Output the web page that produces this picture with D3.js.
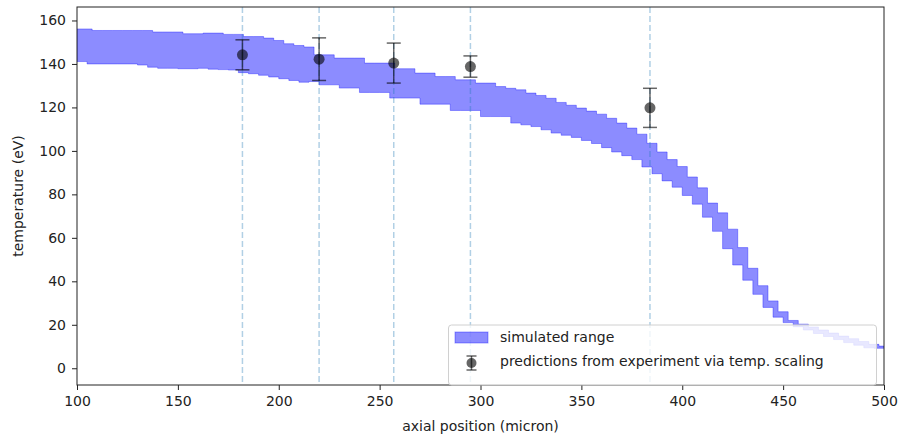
<!DOCTYPE html>
<html>
<head>
<meta charset="utf-8">
<script src="https://cdn.jsdelivr.net/npm/d3@7"></script>
<style>
  body { margin: 0; background: #fff; }
  svg { font-family: "DejaVu Sans", sans-serif; }
</style>
</head>
<body>
<div id="chart"></div>
<script>
'use strict';

// axial positions of the simulated band (micron)
const band_x = [100,105,110,115,120,125,130,135,140,145,150,155,160,165,170,175,180,185,190,195,
  200,205,210,215,220,225,230,235,240,245,250,255,260,265,270,275,280,285,290,295,
  300,305,310,315,320,325,330,335,340,345,350,355,360,365,370,375,380,385,390,395,
  400,405,410,415,420,425,430,435,440,445,450,455,460,465,470,475,480,485,490,495,500];

const band_hi = [156.1,156.1,155.4,155.4,155.4,155.4,155.4,155.4,154.7,154.7,154.7,153.9,153.9,154.2,154.2,153.6,153.6,152.6,152.6,151.9,
  150.8,149.3,148.5,147.8,144.2,144.2,142.7,142.7,142.7,140.4,140.4,140.4,137.8,137.8,135.8,135.8,134.2,134.2,132.7,132.7,
  131.2,131.2,129.6,128.8,128.1,126.6,125.5,124.2,122.3,121.0,119.7,118.3,116.9,115.0,112.8,110.5,107.7,103.5,99.5,96.0,
  92.8,88.0,83.0,76.0,71.5,64.0,55.5,46.0,38.0,31.0,26.0,22.0,20.3,19.0,17.6,16.2,14.8,13.6,12.3,11.0,10.2];

const band_lo = [141.1,141.1,140.0,140.0,140.0,140.0,140.0,139.5,138.5,138.0,138.0,137.8,137.8,138.0,137.6,137.4,137.2,136.0,135.5,134.8,
  134.0,133.2,132.4,131.6,131.9,130.4,130.4,128.9,128.9,126.9,126.9,126.9,124.3,124.3,124.3,121.5,121.5,121.5,118.6,118.6,
  118.6,115.8,115.8,115.8,112.8,112.0,111.2,109.7,108.2,107.2,106.2,104.8,103.4,101.5,99.5,97.8,96.0,92.6,89.5,86.2,
  83.3,79.5,75.5,69.5,63.0,55.0,47.5,40.5,34.0,28.0,23.5,21.0,19.1,17.6,16.0,14.6,13.2,11.8,10.6,9.4,9.2];

// predictions from experiment
const pred_x = [182, 220, 257, 295, 384];
const pred_y = [144.2, 142.2, 140.4, 138.8, 119.8];
const pred_err = [6.9, 9.8, 9.2, 4.9, 9.0];

const x_ticks = [100, 150, 200, 250, 300, 350, 400, 450, 500];
const y_ticks = [0, 20, 40, 60, 80, 100, 120, 140, 160];

const legend_labels = ["simulated range", "predictions from experiment via temp. scaling"];

const width = 903, height = 437;
const margin = {top: 7, right: 19, bottom: 52, left: 77};

const svg = d3.select("#chart").append("svg")
  .attr("width", width)
  .attr("height", height);

const x = d3.scaleLinear().domain([100, 500]).range([margin.left, width - margin.right]);
const y = d3.scaleLinear().domain([-7.7, 166.2]).range([height - margin.bottom, margin.top]);

svg.append("defs").append("clipPath").attr("id", "clip")
  .append("rect")
  .attr("x", margin.left).attr("y", margin.top)
  .attr("width", width - margin.left - margin.right)
  .attr("height", height - margin.top - margin.bottom);

const plot = svg.append("g").attr("clip-path", "url(#clip)");

// band: upper edge steps at midpoints, lower edge steps at samples,
// so the two staircases are offset by half a step
const n = band_x.length;
const top_pts = [], bot_pts = [];
band_x.forEach(function(d, i) {
  const a = i > 0 ? (band_x[i - 1] + d) / 2 : d;
  const b = i < n - 1 ? (band_x[i + 1] + d) / 2 : d;
  top_pts.push([x(a), y(band_hi[i])], [x(b), y(band_hi[i])]);
});
bot_pts.push([x(band_x[0]), y(band_lo[0])]);
for (let i = 0; i < n - 1; i++) {
  bot_pts.push([x(band_x[i]), y(band_lo[i + 1])], [x(band_x[i + 1]), y(band_lo[i + 1])]);
}
const poly = top_pts.concat(bot_pts.reverse());

plot.append("path")
  .datum(poly)
  .attr("fill", "blue")
  .attr("fill-opacity", 0.45)
  .attr("stroke", "blue")
  .attr("stroke-opacity", 0.35)
  .attr("stroke-width", 1)
  .attr("d", d3.line().curve(d3.curveLinearClosed));

// vertical dashed lines at prediction positions
plot.append("g")
  .selectAll("line")
  .data(pred_x)
  .enter().append("line")
  .attr("x1", function(d) { return x(d); })
  .attr("x2", function(d) { return x(d); })
  .attr("y1", margin.top)
  .attr("y2", height - margin.bottom)
  .attr("stroke", "#1f77b4")
  .attr("stroke-opacity", 0.35)
  .attr("stroke-width", 1.5)
  .attr("stroke-dasharray", "6,3");

// error bars
const preds = pred_x.map(function(d, i) { return {x: d, y: pred_y[i], e: pred_err[i]}; });
const pts = plot.append("g")
  .selectAll("g")
  .data(preds)
  .enter().append("g")
  .attr("stroke", "black")
  .attr("stroke-opacity", 0.6)
  .attr("stroke-width", 1.5);

pts.append("line")
  .attr("x1", function(d) { return x(d.x); })
  .attr("x2", function(d) { return x(d.x); })
  .attr("y1", function(d) { return y(d.y - d.e); })
  .attr("y2", function(d) { return y(d.y + d.e); });

[-1, 1].forEach(function(s) {
  pts.append("line")
    .attr("x1", function(d) { return x(d.x) - 7; })
    .attr("x2", function(d) { return x(d.x) + 7; })
    .attr("y1", function(d) { return y(d.y + s * d.e); })
    .attr("y2", function(d) { return y(d.y + s * d.e); });
});

pts.append("circle")
  .attr("cx", function(d) { return x(d.x); })
  .attr("cy", function(d) { return y(d.y); })
  .attr("r", 5.5)
  .attr("stroke", "none")
  .attr("fill", "black")
  .attr("fill-opacity", 0.6);

// axes
const xAxis = svg.append("g")
  .attr("transform", `translate(0,${height - margin.bottom})`)
  .call(d3.axisBottom(x).tickValues(x_ticks).tickSize(5).tickPadding(6));

const yAxis = svg.append("g")
  .attr("transform", `translate(${margin.left},0)`)
  .call(d3.axisLeft(y).tickValues(y_ticks).tickSize(5).tickPadding(6));

[xAxis, yAxis].forEach(function(a) {
  a.select(".domain").remove();
  a.selectAll("text").attr("font-size", 14).attr("fill", "#222").attr("font-family", "DejaVu Sans");
  a.selectAll("line").attr("stroke", "#222");
});

// frame
svg.append("rect")
  .attr("x", margin.left).attr("y", margin.top)
  .attr("width", width - margin.left - margin.right)
  .attr("height", height - margin.top - margin.bottom)
  .attr("fill", "none")
  .attr("stroke", "#222")
  .attr("stroke-width", 1);

// labels
svg.append("text")
  .attr("x", (margin.left + width - margin.right) / 2)
  .attr("y", 431)
  .attr("text-anchor", "middle")
  .attr("font-size", 14)
  .attr("fill", "#222")
  .text("axial position (micron)");

svg.append("text")
  .attr("transform", `translate(23,${(margin.top + height - margin.bottom) / 2}) rotate(-90)`)
  .attr("text-anchor", "middle")
  .attr("font-size", 14)
  .attr("fill", "#222")
  .text("temperature (eV)");

// legend
const lg = svg.append("g");
lg.append("rect")
  .attr("x", 448.5).attr("y", 325)
  .attr("width", 428).attr("height", 60)
  .attr("rx", 3)
  .attr("fill", "white")
  .attr("fill-opacity", 0.8)
  .attr("stroke", "#d0d0d0");

lg.append("rect")
  .attr("x", 455).attr("y", 332)
  .attr("width", 33).attr("height", 11)
  .attr("fill", "blue")
  .attr("fill-opacity", 0.45)
  .attr("stroke", "blue")
  .attr("stroke-opacity", 0.35);

const lsym = lg.append("g")
  .attr("stroke", "black")
  .attr("stroke-opacity", 0.6)
  .attr("stroke-width", 1.5);
lsym.append("line").attr("x1", 471.5).attr("x2", 471.5).attr("y1", 356).attr("y2", 370);
lsym.append("line").attr("x1", 466.5).attr("x2", 476.5).attr("y1", 356).attr("y2", 356);
lsym.append("line").attr("x1", 466.5).attr("x2", 476.5).attr("y1", 370).attr("y2", 370);
lg.append("circle").attr("cx", 471.5).attr("cy", 363).attr("r", 5)
  .attr("fill", "black").attr("fill-opacity", 0.6);

lg.selectAll("text.lbl")
  .data(legend_labels)
  .enter().append("text")
  .attr("class", "lbl")
  .attr("x", 500)
  .attr("y", function(d, i) { return 342 + i * 23.5; })
  .attr("font-size", 14)
  .attr("fill", "#222")
  .text(function(d) { return d; });
</script>
</body>
</html>
